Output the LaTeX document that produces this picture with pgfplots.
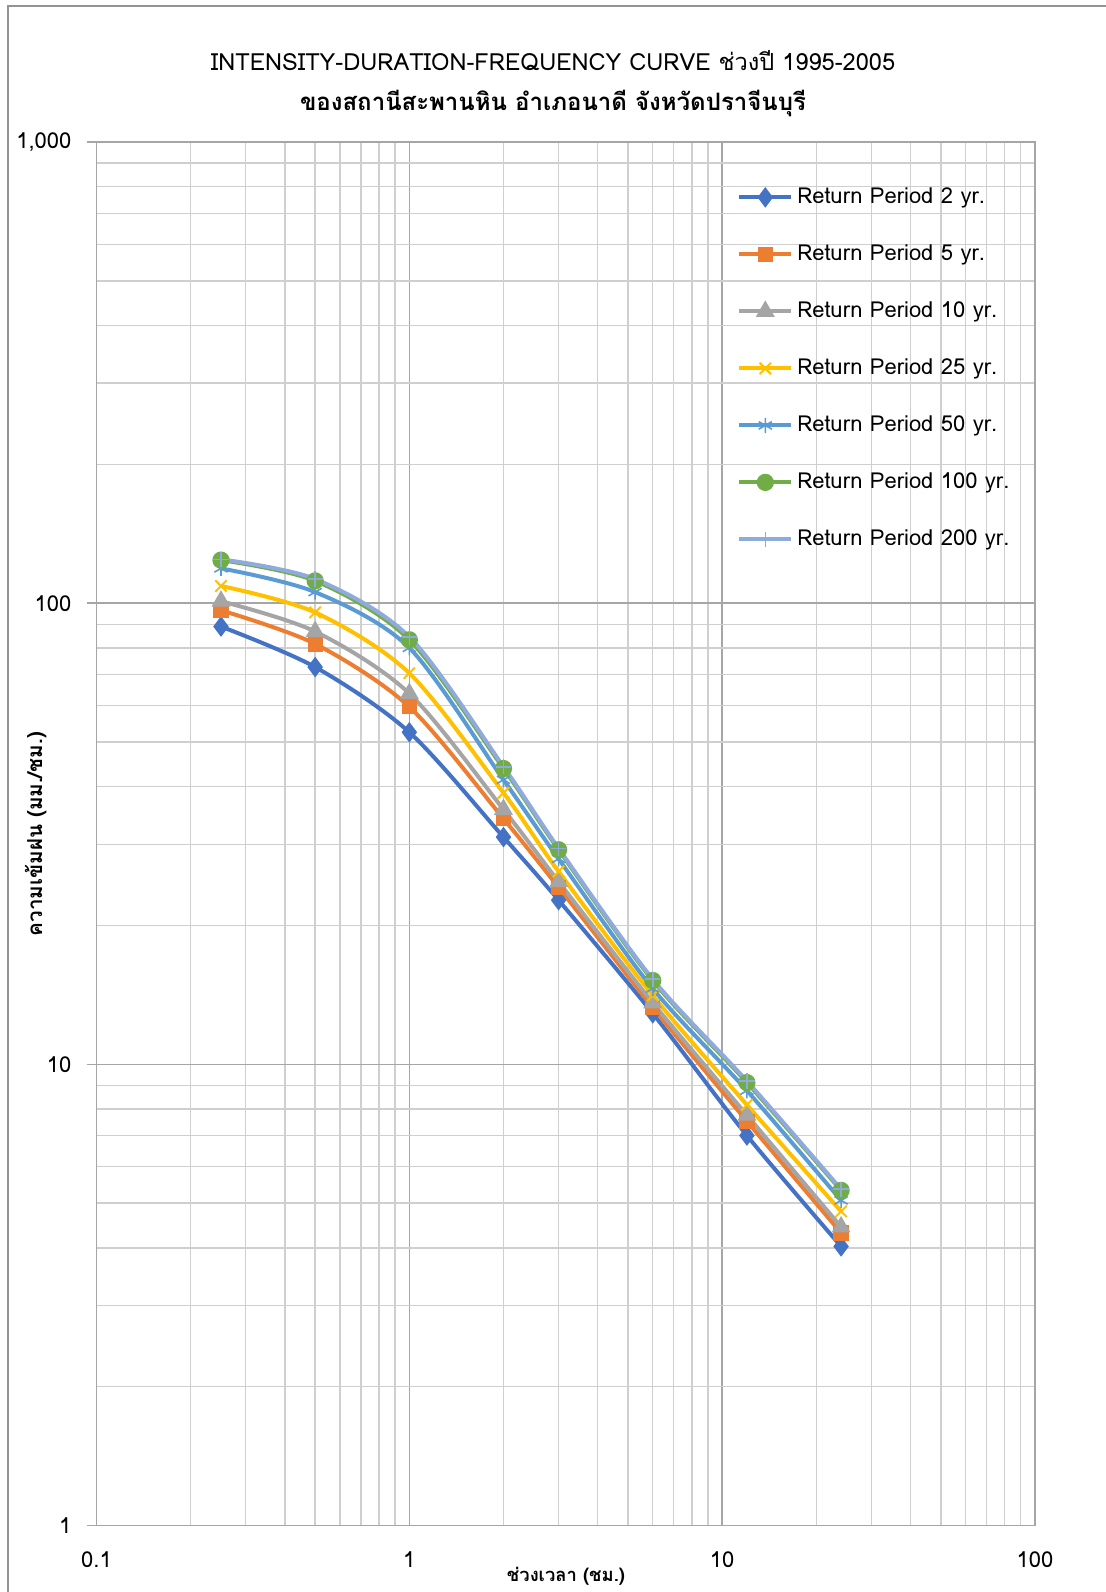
\documentclass[border=0pt]{standalone}
\usepackage{fontspec}
\setmainfont{Loma}[Script=Thai]
\usepackage{pgfplots}
\pgfplotsset{compat=1.18}
\definecolor{c1}{HTML}{4472C4}
\definecolor{c2}{HTML}{ED7D31}
\definecolor{c3}{HTML}{A5A5A5}
\definecolor{c4}{HTML}{FFC000}
\definecolor{c5}{HTML}{5B9BD5}
\definecolor{c6}{HTML}{70AD47}
\definecolor{c7}{HTML}{8FAADC}
\definecolor{gmaj}{HTML}{A6A6A6}
\definecolor{gmin}{HTML}{CFCFCF}
\begin{document}
\begin{tikzpicture}
\useasboundingbox (0pt,0pt) rectangle (553pt,-796pt);
\draw[color=gray!85, line width=1pt] (4pt,-800pt) -- (4pt,-3pt) -- (560pt,-3pt);
\node[font=\fontsize{11.8}{13}\selectfont] at (276.5pt,-30.5pt) {INTENSITY-DURATION-FREQUENCY CURVE ช่วงปี 1995-2005};
\node[font=\fontsize{12}{13}\selectfont\bfseries] at (276.5pt,-51.5pt) {ของสถานีสะพานหิน อำเภอนาดี จังหวัดปราจีนบุรี};
\node[font=\fontsize{10.3}{11}\selectfont\bfseries, rotate=90] at (17.8pt,-417pt) {ความเข้มฝน (มม./ชม.)};
\node[font=\fontsize{9.2}{10}\selectfont\bfseries] at (283pt,-788pt) {ช่วงเวลา (ชม.)};
\begin{axis}[
  at={(48.25pt,-762.75pt)}, anchor=south west,
  scale only axis, width=469.25pt, height=691.75pt,
  xmode=log, ymode=log,
  xmin=0.1, xmax=100, ymin=1, ymax=1000,
  xtick={0.1,1,10,100}, xticklabels={0.1,1,10,100},
  ytick={1,10,100,1000}, yticklabels={1,10,100,{1,000}},
  ytick pos=left,
  ticklabel style={font=\fontsize{11}{12}\selectfont},
  xticklabel style={yshift=-4.5pt},
  yticklabel style={xshift=-4pt},
  grid=both,
  major grid style={color=gmaj, line width=0.8pt},
  minor grid style={color=gmin, line width=0.7pt},
  axis line style={color=gmaj, line width=0.8pt},
  xtick style={draw=none},
  ytick style={color=gmaj, line width=0.8pt},
  minor tick style={draw=none},
  tick align=outside,
  major tick length=5pt,
  legend style={at={(0.676,0.974)}, anchor=north west, draw=none, fill=none,
    font=\fontsize{11}{12}\selectfont, row sep=13.5pt,
    nodes={inner sep=2pt, text height=8.5pt, text depth=2.5pt},
    cells={anchor=west}},
  legend image code/.code={\draw[mark repeat=2,mark phase=2,#1] plot coordinates {(0pt,0pt) (13pt,0pt) (26pt,0pt)};},
  every axis plot/.append style={line width=2pt},
]
\addplot[smooth, color=c1, mark=diamond*, mark size=3.5pt, mark options={solid, fill=c1}] coordinates {
(0.25,89.0) (0.5,72.7) (1,52.5) (2,31.1) (3,22.7) (6,12.9) (12,7.01) (24,4.03)};
\addlegendentry{Return Period 2 yr.}
\addplot[smooth, color=c2, mark=square*, mark size=2.8pt, mark options={solid, fill=c2}] coordinates {
(0.25,96.5) (0.5,81.6) (1,59.6) (2,34.1) (3,24.2) (6,13.3) (12,7.53) (24,4.31)};
\addlegendentry{Return Period 5 yr.}
\addplot[smooth, color=c3, mark=triangle*, mark size=3.5pt, mark options={solid, fill=c3}] coordinates {
(0.25,101) (0.5,86.8) (1,63.7) (2,35.7) (3,24.9) (6,13.6) (12,7.76) (24,4.44)};
\addlegendentry{Return Period 10 yr.}
\addplot[smooth, color=c4, mark=x, mark size=4pt, mark options={solid, line width=1pt}] coordinates {
(0.25,109) (0.5,95.5) (1,70.5) (2,38.8) (3,26.2) (6,14.1) (12,8.17) (24,4.80)};
\addlegendentry{Return Period 25 yr.}
\addplot[smooth, color=c5, mark=asterisk, mark size=3.8pt, mark options={solid, line width=0.8pt}] coordinates {
(0.25,119) (0.5,105.7) (1,80) (2,41.4) (3,27.9) (6,14.6) (12,8.77) (24,5.07)};
\addlegendentry{Return Period 50 yr.}
\addplot[smooth, color=c6, mark=*, mark size=3.3pt, mark options={solid, fill=c6}] coordinates {
(0.25,124) (0.5,111.8) (1,83.3) (2,43.8) (3,29.2) (6,15.2) (12,9.13) (24,5.33)};
\addlegendentry{Return Period 100 yr.}
\addplot[smooth, color=c7, mark=+, mark size=3.8pt, mark options={solid, line width=0.8pt}] coordinates {
(0.25,124.5) (0.5,112.8) (1,84.5) (2,44.2) (3,29.4) (6,15.3) (12,9.2) (24,5.36)};
\addlegendentry{Return Period 200 yr.}
\end{axis}
\end{tikzpicture}
\end{document}
